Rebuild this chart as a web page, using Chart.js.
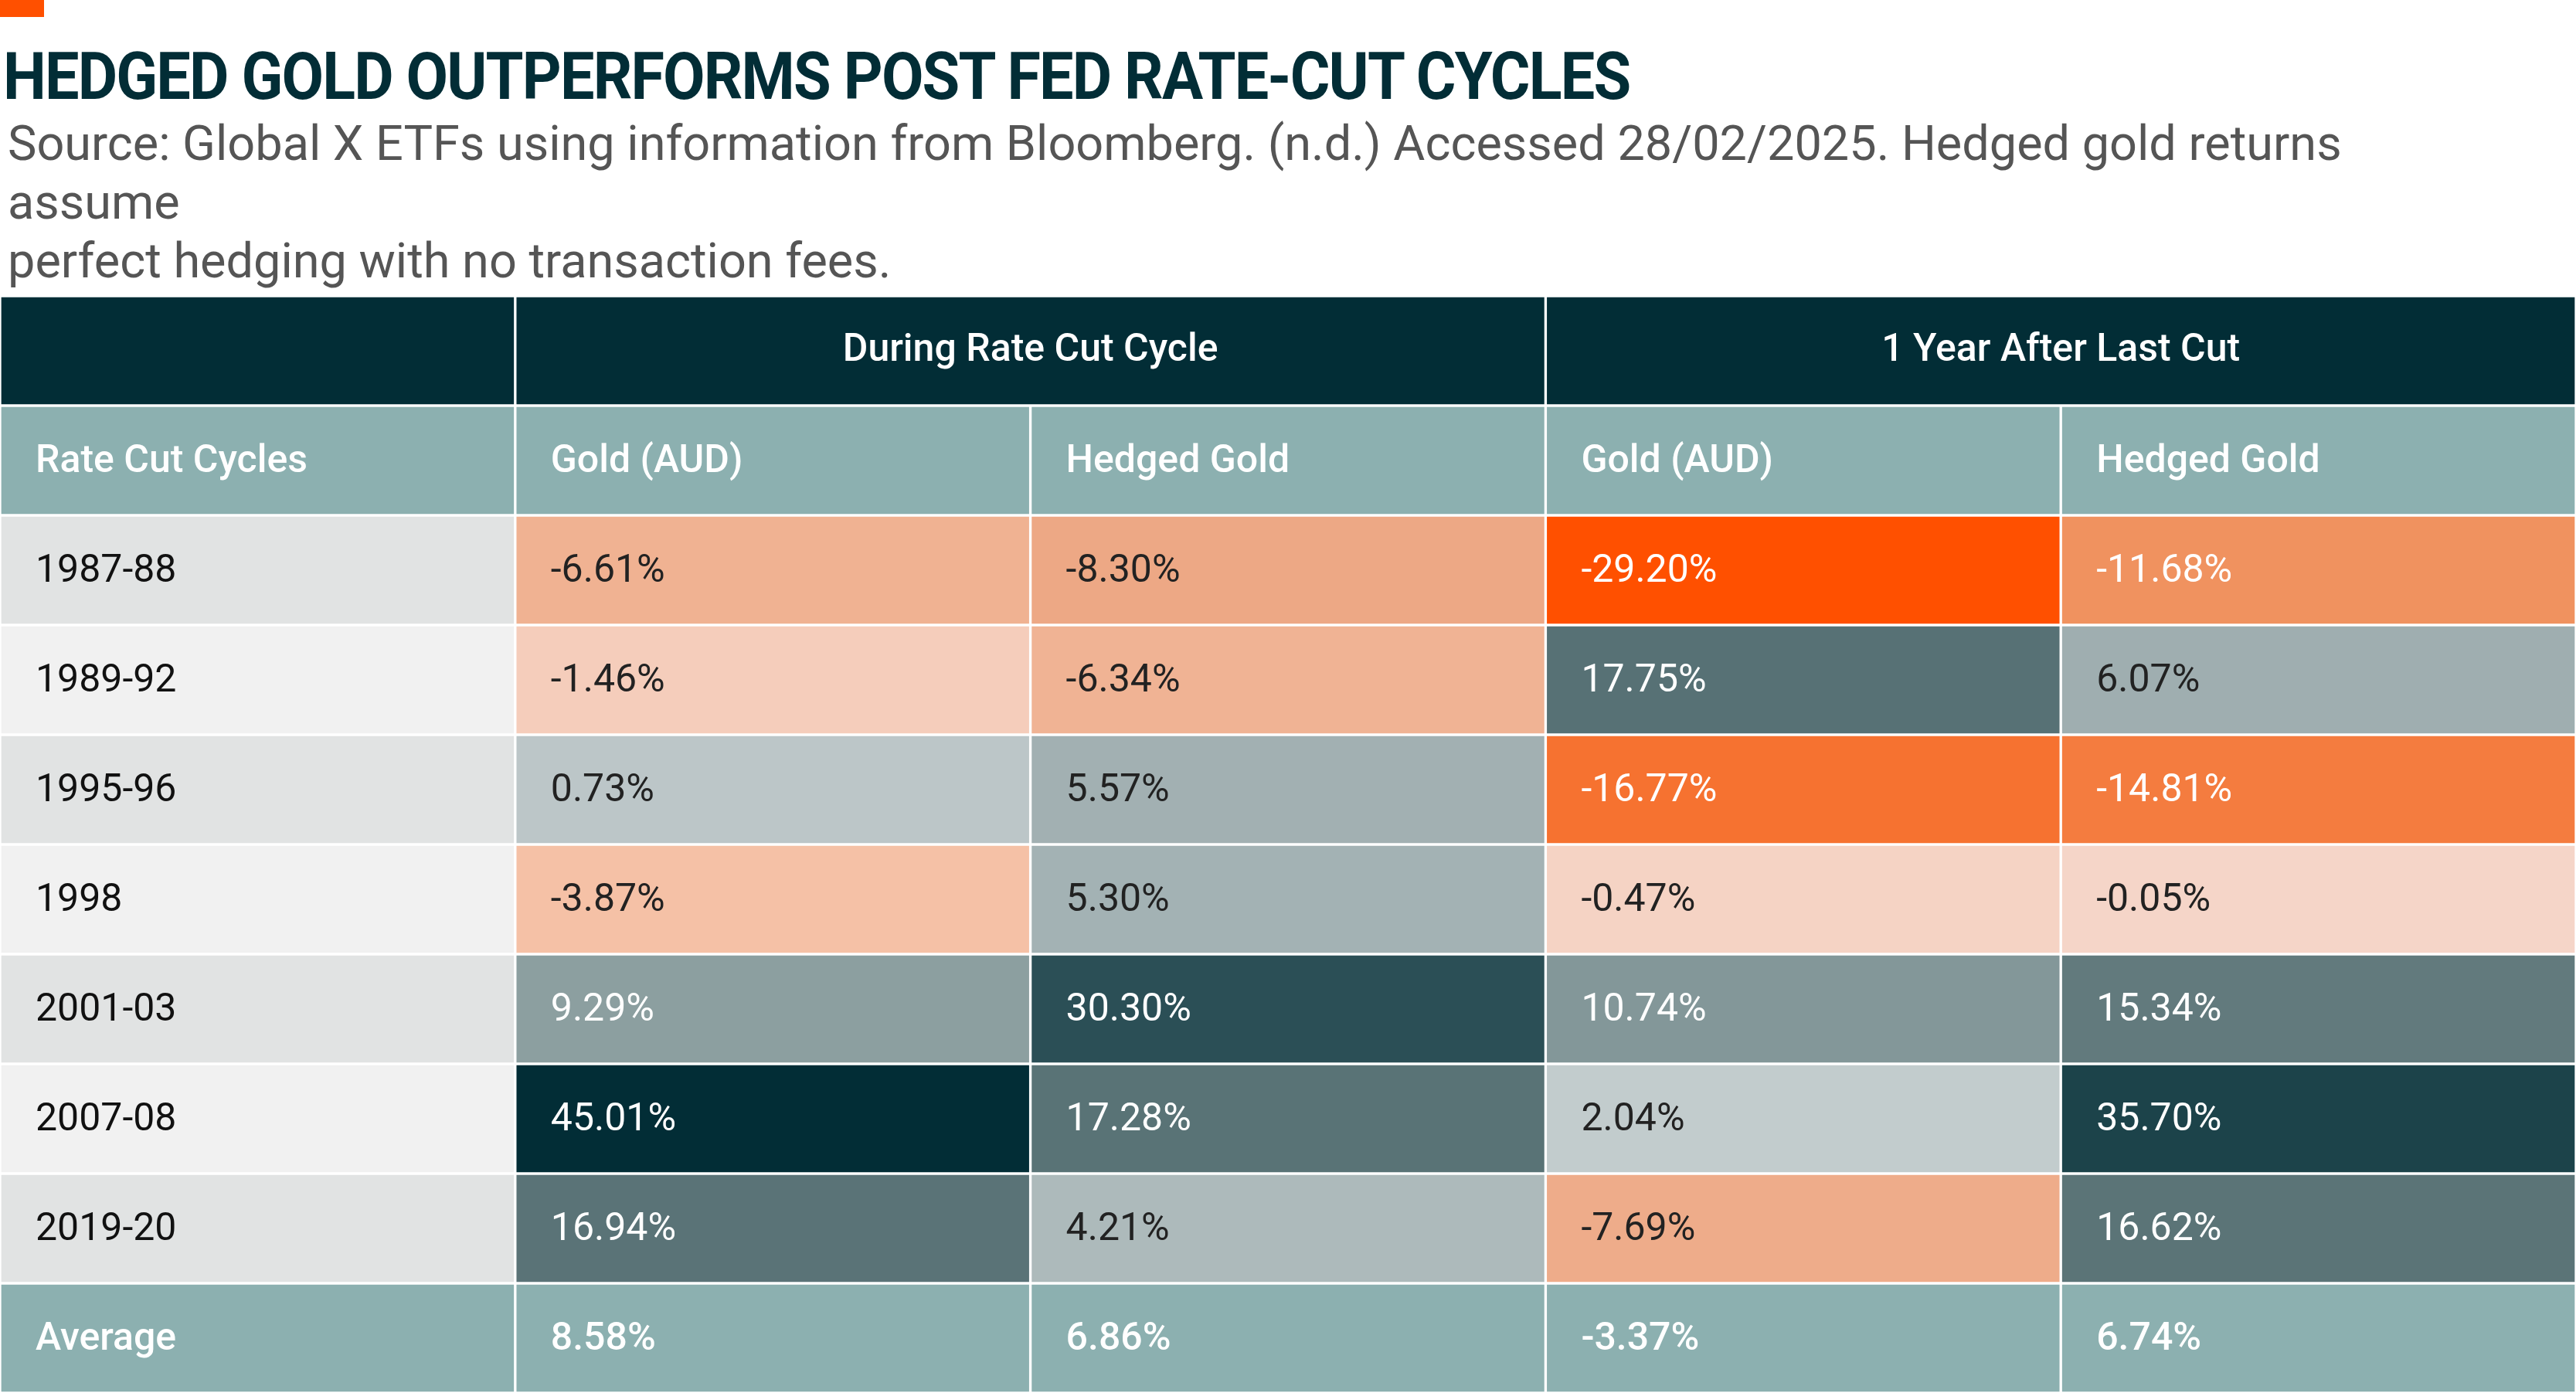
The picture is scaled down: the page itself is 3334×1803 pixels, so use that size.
<!DOCTYPE html>
<html><head><meta charset="utf-8">
<script src="https://cdn.jsdelivr.net/npm/chart.js@4"></script>
<style>
body{margin:0;width:3334px;height:1803px;background:#fff;overflow:hidden;font-family:Roboto,sans-serif;position:relative}
#bar{position:absolute;left:0;top:0;width:57px;height:22px;background:#FF5000}
#t{position:absolute;left:4px;top:48px;font-size:86px;font-weight:700;color:#022D36;letter-spacing:-2px;transform:scaleX(0.92);transform-origin:left}
#s{position:absolute;left:10px;top:148px;font-size:63px;color:#555;line-height:76px;width:3250px}
#wrap{position:absolute;left:0;top:383px;width:3334px;height:1420px}
</style></head><body>
<div id="bar"></div>
<div id="t">HEDGED GOLD OUTPERFORMS POST FED RATE-CUT CYCLES</div>
<div id="s">Source: Global X ETFs using information from Bloomberg. (n.d.) Accessed 28/02/2025. Hedged gold returns assume<br>perfect hedging with no transaction fees.</div>
<div id="wrap"><canvas id="c"></canvas></div>
<script>
const rowLabels=['1987-88','1989-92','1995-96','1998','2001-03','2007-08','2019-20'];
const duringGold=[-6.61,-1.46,0.73,-3.87,9.29,45.01,16.94];
const duringHedged=[-8.30,-6.34,5.57,5.30,30.30,17.28,4.21];
const afterGold=[-29.20,17.75,-16.77,-0.47,10.74,2.04,-7.69];
const afterHedged=[-11.68,6.07,-14.81,-0.05,15.34,35.70,16.62];
const averages=[8.58,6.86,-3.37,6.74];
const groupHeaders=['During Rate Cut Cycle','1 Year After Last Cut'];
const colHeaders=['Rate Cut Cycles','Gold (AUD)','Hedged Gold','Gold (AUD)','Hedged Gold'];

const stops=[[-29.2,'#FF5000'],[-16,'#F57433'],[-11.7,'#F0925F'],[-8,'#EDAA88'],[-4,'#F5C0A5'],[0,'#F5D5C8'],[0.01,'#B8C3C5'],[2,'#C2CCCD'],[5,'#A5B3B5'],[10,'#889C9D'],[16,'#5D7679'],[30,'#2C5057'],[45,'#022D36']];
function hex(h){return [1,3,5].map(i=>parseInt(h.substr(i,2),16));}
function colorFor(v){
  if(v<=stops[0][0])return stops[0][1];
  for(let i=1;i<stops.length;i++){if(v<=stops[i][0]){const [a,ca]=stops[i-1],[b,cb]=stops[i];const t=(v-a)/(b-a);const A=hex(ca),B=hex(cb);return 'rgb('+A.map((x,k)=>Math.round(x+(B[k]-x)*t)).join(',')+')';}}
  return stops[stops.length-1][1];
}
const fmt=v=>v.toFixed(2)+'%';
const cats=['g','h',...rowLabels,'Average'];
const cols=[null,duringGold,duringHedged,afterGold,afterHedged];
const datasets=[];
for(let c=0;c<5;c++){
  const data=[],bg=[],txt=[],tc=[],bold=[];
  cats.forEach((cat,r)=>{
    if(r===0){
      if(c===0){data.push([0,1]);txt.push('');}
      else if(c===1||c===3){data.push([c,c+2]);txt.push(groupHeaders[(c-1)/2]);}
      else {data.push(null);txt.push('');}
      bg.push('#022D36');tc.push('#fff');bold.push('center');
    } else if(r===1){
      data.push([c,c+1]);bg.push('#8CB0B0');txt.push(colHeaders[c]);tc.push('#fff');bold.push('b');
    } else if(r===cats.length-1){
      data.push([c,c+1]);bg.push('#8CB0B0');txt.push(c===0?'Average':fmt(averages[c-1]));tc.push('#fff');bold.push('b');
    } else {
      data.push([c,c+1]);
      if(c===0){bg.push(r%2===0?'#E1E3E3':'#F1F1F1');txt.push(cat);tc.push('#111');}
      else{const v=cols[c][r-2];bg.push(colorFor(v));txt.push(fmt(v));tc.push((v<-10||v>9)?'#fff':'#222');}
      bold.push('');
    }
  });
  datasets.push({data,backgroundColor:bg,borderColor:'#fff',borderWidth:2,borderSkipped:false,grouped:false,barPercentage:1,categoryPercentage:1,txt,tc,bold});
}
const textPlugin={id:'txt',afterDatasetsDraw(chart){
  const ctx=chart.ctx;
  chart.data.datasets.forEach((ds,di)=>{
    chart.getDatasetMeta(di).data.forEach((el,i)=>{
      const t=ds.txt[i]; if(!t)return;
      const x0=Math.min(el.x,el.base),x1=Math.max(el.x,el.base);
      ctx.save();ctx.fillStyle=ds.tc[i];ctx.textBaseline='middle';
      const b=ds.bold[i];
      ctx.font=(b?'500 ':'400 ')+'50px Roboto';
      if(b==='center'){ctx.textAlign='center';ctx.fillText(t,(x0+x1)/2,el.y);}
      else{ctx.textAlign='left';ctx.fillText(t,x0+46,el.y+2);}
      ctx.restore();
    });
  });
}};
new Chart(document.getElementById('c'),{type:'bar',data:{labels:cats,datasets},
 options:{indexAxis:'y',responsive:true,maintainAspectRatio:false,animation:false,
  layout:{padding:0},
  plugins:{legend:{display:false},tooltip:{enabled:false}},
  scales:{x:{type:'linear',min:0,max:5,display:false},y:{display:false,offset:true}}},
 plugins:[textPlugin]});
</script></body></html>
